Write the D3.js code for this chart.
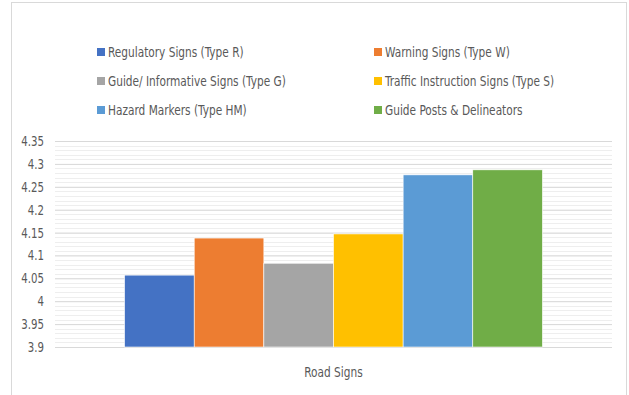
<!DOCTYPE html>
<html lang="en">
<head>
    <meta charset="UTF-8">
    <title>Road Signs</title>
    <script src="https://cdnjs.cloudflare.com/ajax/libs/d3/7.8.5/d3.min.js"></script>
    <style>
        body { margin: 0; background: #fff; }
        text { font-family: "DejaVu Sans Condensed", "Liberation Sans Narrow", "DejaVu Sans", sans-serif; font-stretch: condensed; fill: #595959; }
    </style>
</head>
<body>
    <div id="chart"></div>
    <script>
        // data
        const category = 'Road Signs'
        const series = [
            'Regulatory Signs (Type R)',
            'Warning Signs (Type W)',
            'Guide/ Informative Signs (Type G)',
            'Traffic Instruction Signs (Type S)',
            'Hazard Markers (Type HM)',
            'Guide Posts & Delineators'
        ]
        const values = [4.057, 4.138, 4.083, 4.147, 4.276, 4.287]
        const colors = ['#4472C4', '#ED7D31', '#A5A5A5', '#FFC000', '#5B9BD5', '#70AD47']
        const yTicks = [3.9, 3.95, 4, 4.05, 4.1, 4.15, 4.2, 4.25, 4.3, 4.35]

        const width = 629, height = 395
        const plot = { left: 55, right: 612, top: 141, bottom: 347 }
        // the original font (Calibri) is narrower than what we have
        const squeeze = 0.81

        const svg = d3.select('#chart')
            .append('svg')
            .attr('width', width)
            .attr('height', height)

        // outer frame
        svg.append('rect')
            .attr('x', 11.5).attr('y', 2.5)
            .attr('width', 615).attr('height', 400)
            .attr('fill', 'none')
            .attr('stroke', '#d9d9d9')

        const y = d3.scaleLinear()
            .domain([3.9, 4.35])
            .range([plot.bottom, plot.top])

        // one category band, bars fill 75% of it
        const x0 = d3.scaleBand()
            .domain([category])
            .range([plot.left, plot.right])
            .paddingInner(0)
            .paddingOuter(0.1665)
        const x1 = d3.scaleBand()
            .domain(series)
            .range([0, x0.bandwidth()])

        // minor grid
        const minor = d3.range(3.9, 4.351, 0.01).map(d => +d.toFixed(2))
        svg.append('g')
            .selectAll('line')
            .data(minor)
            .enter()
            .append('line')
            .attr('x1', plot.left).attr('x2', plot.right)
            .attr('y1', d => Math.round(y(d)) + 0.5)
            .attr('y2', d => Math.round(y(d)) + 0.5)
            .attr('stroke', '#eeeeee')

        // major grid + labels
        const yAxis = d3.axisLeft(y)
            .tickValues(yTicks)
            .tickSize(-(plot.right - plot.left))
            .tickPadding(11)
            .tickFormat(d => d3.format('')(+d.toFixed(2)))
        const ga = svg.append('g')
            .attr('transform', `translate(${plot.left},0)`)
            .call(yAxis)
        ga.select('.domain').remove()
        ga.selectAll('.tick line').attr('stroke', '#d9d9d9')
        ga.selectAll('.tick text')
            .attr('font-size', 14)
            .attr('fill', '#595959')
            .style('font-family', null)

        // bars
        svg.append('g')
            .attr('transform', `translate(${x0(category)},0)`)
            .selectAll('rect')
            .data(values)
            .enter()
            .append('rect')
            .attr('x', (d, i) => x1(series[i]))
            .attr('y', d => y(d))
            .attr('width', x1.bandwidth())
            .attr('height', d => y(3.9) - y(d))
            .attr('fill', (d, i) => colors[i])
            .attr('stroke', '#fff')
            .attr('stroke-width', 0.6)

        // category label
        svg.append('text')
            .attr('x', x0(category) + x0.bandwidth() / 2)
            .attr('y', 377)
            .attr('text-anchor', 'middle')
            .attr('font-size', 14.5)
            .text(category)

        // legend
        const legend = svg.append('g')
            .selectAll('g')
            .data(series)
            .enter()
            .append('g')
            .attr('transform', (d, i) => `translate(${i % 2 ? 374 : 97},${52 + Math.floor(i / 2) * 29})`)
        legend.append('rect')
            .attr('x', 0).attr('y', -4)
            .attr('width', 8).attr('height', 8)
            .attr('fill', (d, i) => colors[i])
        legend.append('text')
            .attr('x', 11)
            .attr('y', 5)
            .attr('font-size', 14.5)
            .text(d => d)

        // condense all text horizontally
        svg.selectAll('text').each(function () {
            const len = this.getComputedTextLength()
            d3.select(this)
                .attr('textLength', len * squeeze)
                .attr('lengthAdjust', 'spacingAndGlyphs')
        })
    </script>
</body>
</html>
